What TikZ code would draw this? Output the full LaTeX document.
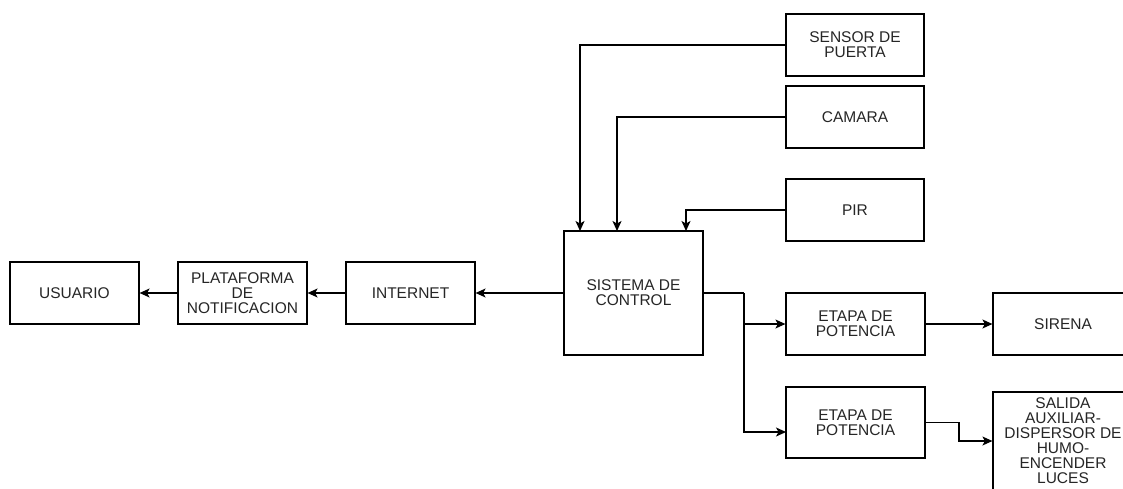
\documentclass[tikz,border=0pt]{standalone}
\usepackage{fontspec}
\setmainfont{Liberation Sans}
\usetikzlibrary{arrows.meta}
\begin{document}
\begin{tikzpicture}[x=1pt,y=-1pt,
  box/.style={draw=black, line width=1.2pt, fill=white, inner sep=0pt, align=center,
    font=\fontsize{15.5}{15}\selectfont, text=black!85},
  arr/.style={draw=black, line width=1.2pt, -{Stealth[length=10pt,width=9pt,inset=2.5pt]}},
  ln/.style={draw=black, line width=1.2pt}]
\useasboundingbox (0,0) rectangle (1123,489);
\clip (0,0) rectangle (1123,489);
\node[box, minimum width=129pt, minimum height=62pt] (usr) at (74.5,293) {USUARIO};
\node[box, minimum width=129pt, minimum height=62pt] (plat) at (242.5,293) {PLATAFORMA\\DE\\NOTIFICACION};
\node[box, minimum width=129pt, minimum height=62pt] (inet) at (410.5,293) {INTERNET};
\node[box, minimum width=139pt, minimum height=124pt] (sdc) at (633.5,293) {SISTEMA DE\\CONTROL};
\node[box, minimum width=138pt, minimum height=62pt] (sens) at (855,45) {SENSOR DE\\PUERTA};
\node[box, minimum width=138pt, minimum height=62pt] (cam) at (855,117) {CAMARA};
\node[box, minimum width=138pt, minimum height=62pt] (pir) at (855,210) {PIR};
\node[box, minimum width=139pt, minimum height=62pt] (et1) at (855.5,324) {ETAPA DE\\POTENCIA};
\node[box, minimum width=140pt, minimum height=62pt] (sir) at (1063,324) {SIRENA};
\node[box, minimum width=139pt, minimum height=71pt] (et2) at (855.5,422.5) {ETAPA DE\\POTENCIA};
\node[box, minimum width=140pt, minimum height=98pt] (sal) at (1063,441) {SALIDA\\AUXILIAR-\\DISPERSOR DE\\HUMO-\\ENCENDER\\LUCES};
% input points on the control block
\coordinate (inS) at (580,231);
\coordinate (inC) at (617,231);
\coordinate (inP) at (686,231);
\coordinate (bus) at (744,293);
\coordinate (e2in) at (786,432);
\coordinate (sbend) at (959,422.5);
\draw[arr] (sdc.west) -- (inet.east);
\draw[arr] (inet.west) -- (plat.east);
\draw[arr] (plat.west) -- (usr.east);
\draw[arr] (sens.west) -| (inS);
\draw[arr] (cam.west) -| (inC);
\draw[arr] (pir.west) -| (inP);
\draw[ln] (sdc.east) -- (bus);
\draw[arr] (bus) |- (et1.west);
\draw[arr] (bus) |- (e2in);
\draw[arr] (et1.east) -- (sir.west);
\draw[arr] (et2.east) -- (sbend) |- (sal.west);
\end{tikzpicture}
\end{document}
